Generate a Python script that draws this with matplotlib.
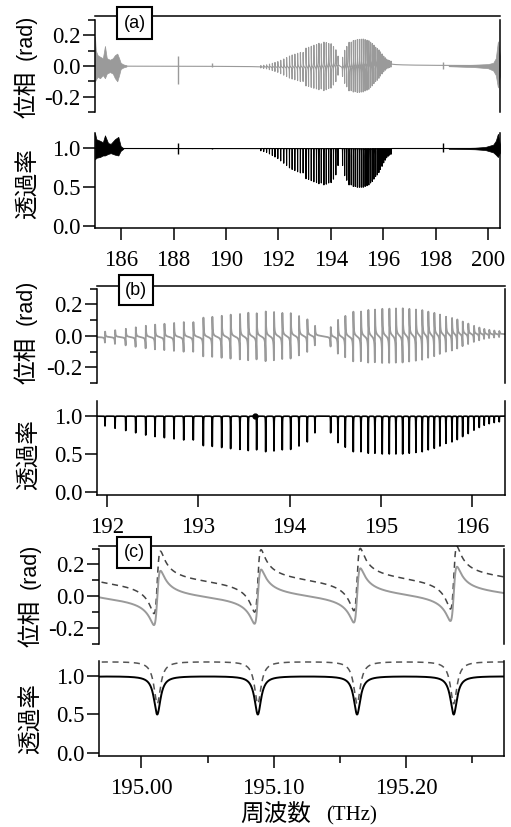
import numpy as np
import matplotlib.pyplot as plt
from matplotlib.patches import Rectangle

W, H = 511, 827
plt.rcParams['font.family'] = 'serif'
plt.rcParams['font.serif'] = ['Liberation Serif', 'DejaVu Serif']
CJK = ['Noto Sans CJK JP', 'DejaVu Sans']

# comb line centres (THz) and transmission minima
line_f = [191.978, 192.088, 192.205, 192.314, 192.424, 192.526, 192.628, 192.734,
          192.840, 192.945, 193.055, 193.153, 193.256, 193.354, 193.456, 193.547,
          193.639, 193.738, 193.829, 193.920, 194.012, 194.103, 194.194, 194.278,
          194.450, 194.530, 194.610, 194.698, 194.782, 194.862, 194.935, 195.015,
          195.092, 195.165, 195.239, 195.311, 195.384, 195.453, 195.519, 195.585,
          195.647, 195.713, 195.779, 195.837, 195.896, 195.957, 196.020, 196.078,
          196.132, 196.187, 196.242, 196.297]
line_t = [0.87, 0.84, 0.81, 0.78, 0.75, 0.73, 0.715, 0.70, 0.685, 0.685, 0.61, 0.60,
          0.585, 0.57, 0.56, 0.545, 0.555, 0.53, 0.54, 0.555, 0.56, 0.605, 0.66, 0.78,
          0.78, 0.65, 0.59, 0.53, 0.53, 0.51, 0.51, 0.50, 0.50, 0.50, 0.50, 0.51,
          0.52, 0.53, 0.555, 0.575, 0.605, 0.64, 0.66, 0.69, 0.73, 0.77, 0.815, 0.85,
          0.88, 0.90, 0.915, 0.925]
# weak lines only seen in (a)
extra_f = [191.33, 191.44, 191.55, 191.66, 191.77, 191.87]
extra_t = [0.97, 0.96, 0.95, 0.93, 0.91, 0.89]

# panel (c) lines (solid = measured, dashed = offset trace)
c_f = [194.938, 195.012, 195.088, 195.163, 195.236, 195.311]
c_t = [0.50, 0.50, 0.50, 0.50, 0.50, 0.51]
c_t_dash = [0.45, 0.45, 0.45, 0.45, 0.45, 0.46]
dash_phase_offset = 0.1
dash_trans_offset = 0.19

# panel (a) noisy edges (envelopes)
pa_left_f = [185.00, 185.03, 185.10, 185.19, 185.30, 185.38, 185.45, 185.57, 185.68, 185.76, 185.85, 185.92, 185.98, 186.08, 186.20]
pa_left_hi = [0.19, 0.10, 0.07, 0.06, 0.05, 0.13, 0.05, 0.04, 0.05, 0.07, 0.08, 0.05, 0.02, 0.01, 0.004]
pa_left_lo = [-0.10, -0.09, -0.07, -0.08, -0.06, -0.08, -0.05, -0.04, -0.05, -0.08, -0.10, -0.06, -0.02, -0.01, -0.004]
pa_right_f = [198.5, 199.0, 199.5, 200.0, 200.2, 200.3, 200.38, 200.46]
pa_right_hi = [0.002, 0.005, 0.008, 0.012, 0.02, 0.05, 0.16, 0.06]
pa_right_lo = [-0.002, -0.005, -0.008, -0.015, -0.03, -0.06, -0.14, -0.06]
ta_left_f = [185.00, 185.05, 185.19, 185.30, 185.38, 185.50, 185.60, 185.76, 185.89, 185.98, 186.08]
ta_left_hi = [1.20, 1.12, 1.10, 1.08, 1.17, 1.07, 1.06, 1.12, 1.15, 1.03, 1.005]
ta_left_lo = [0.86, 0.88, 0.89, 0.91, 0.91, 0.93, 0.94, 0.92, 0.91, 0.97, 0.995]
ta_right_f = [198.5, 199.0, 199.5, 199.9, 200.2, 200.3, 200.38, 200.46]
ta_right_hi = [1.002, 1.006, 1.01, 1.02, 1.05, 1.10, 1.19, 1.05]
ta_right_lo = [0.998, 0.994, 0.99, 0.98, 0.95, 0.92, 0.89, 0.95]
spike_f = [188.17, 189.47, 198.28]
spike_p_hi = [0.063, 0.02, 0.025]
spike_p_lo = [-0.12, -0.01, -0.02]
spike_t_hi = [1.065, 1.01, 1.065]
spike_t_lo = [0.935, 0.99, 0.96]

GRAY = '#9a9a9a'


def comb(f, centres, tmins, gam):
    t = np.ones_like(f, dtype=complex)
    for f0, tm in zip(centres, tmins):
        a = 1 - np.sqrt(tm)
        t *= 1 - a * gam / (gam + 1j * (f - f0))
    return np.abs(t) ** 2, np.angle(t)


def grid(lo, hi, n, centres, gam):
    base = np.linspace(lo, hi, n)
    offs = gam * np.array([-8, -4, -2, -1.5, -1, -0.85, -0.6, -0.4, -0.2, 0,
                           0.2, 0.4, 0.6, 0.85, 1, 1.5, 2, 4, 8])
    loc = (np.asarray(centres)[:, None] + offs[None, :]).ravel()
    return np.sort(np.concatenate([base, loc]))


fig = plt.figure(figsize=(W / 100, H / 100), dpi=100)


def add_ax(x0, x1, ytop, ybot):
    return fig.add_axes([x0 / W, 1 - ybot / H, (x1 - x0) / W, (ybot - ytop) / H])


def common(ax):
    for s in ax.spines.values():
        s.set_linewidth(1.1)
    ax.tick_params(which='major', direction='out', length=8.6, width=1.1, labelsize=16.5,
                   pad=2, labelfontfamily='Liberation Serif')
    ax.tick_params(which='minor', direction='out', length=4.8, width=1.1)
    ax.tick_params(axis='x', pad=7)


def style_phase(ax, xlim, ytop):
    ax.set_xlim(*xlim)
    ax.set_ylim(-0.3, ytop)
    ax.spines['bottom'].set_visible(False)
    ax.spines['left'].set_bounds(-0.3, 0.3)
    ax.spines['right'].set_bounds(-0.3, 0.3)
    ax.set_xticks([])
    ax.set_yticks([-0.2, 0.0, 0.2])
    ax.set_yticklabels(['-0.2', '0.0', '0.2'])
    ax.set_yticks([-0.3, -0.1, 0.1, 0.3], minor=True)
    common(ax)


def style_trans(ax, xlim, ybot):
    ax.set_xlim(*xlim)
    ax.set_ylim(ybot, 1.2)
    ax.spines['top'].set_visible(False)
    ax.set_yticks([0.0, 0.5, 1.0])
    ax.set_yticklabels(['0.0', '0.5', '1.0'])
    common(ax)


def panel_tag(x0, y0, x1, y1, s):
    fig.add_artist(Rectangle((x0 / W, 1 - y1 / H), (x1 - x0) / W, (y1 - y0) / H,
                             transform=fig.transFigure, facecolor='white',
                             edgecolor='black', lw=1.5, zorder=10))
    fig.text((x0 + x1) / 2 / W, 1 - (y0 + y1) / 2 / H, s, ha='center', va='center',
             fontsize=13, family='Liberation Sans', zorder=11)


def ylabels(x, yp, yr, xt, yt):
    fig.text(x / W, 1 - yp / H, '位相', rotation=90, ha='center', va='center',
             fontsize=17, family=CJK)
    fig.text((x - 1) / W, 1 - yr / H, '(rad)', rotation=90, ha='center', va='center',
             fontsize=15.5, family='Liberation Sans')
    fig.text(xt / W, 1 - yt / H, '透過率', rotation=90, ha='center', va='center',
             fontsize=17, family=CJK)


# ---------- panel (a)
xa = (185.0, 200.46)
fa_c = extra_f + line_f
ta_c = extra_t + line_t
fa = grid(xa[0], xa[1], 8000, fa_c, 0.0012)
Ta, Pa = comb(fa, fa_c, ta_c, 0.0012)

ax = add_ax(95, 500, 16, 112)
ax.plot(fa, Pa, color=GRAY, lw=0.8)
ax.fill_between(pa_left_f, pa_left_lo, pa_left_hi, color=GRAY, lw=0.5)
ax.fill_between(pa_right_f, pa_right_lo, pa_right_hi, color=GRAY, lw=0.5)
ax.vlines(spike_f, spike_p_lo, spike_p_hi, color=GRAY, lw=1.0)
style_phase(ax, xa, 0.325)

ax = add_ax(95, 500, 133, 228)
ax.plot(fa, Ta, color='black', lw=0.8)
ax.fill_between(ta_left_f, ta_left_lo, ta_left_hi, color='black', lw=0.5)
ax.fill_between(ta_right_f, ta_right_lo, ta_right_hi, color='black', lw=0.5)
ax.vlines(spike_f, spike_t_lo, spike_t_hi, color='black', lw=1.0)
style_trans(ax, xa, -0.026)
ax.set_xticks([186, 188, 190, 192, 194, 196, 198, 200])

# ---------- panel (b)
xb = (191.89, 196.36)
fb = grid(xb[0], xb[1], 6000, line_f, 0.0012)
Tb, Pb = comb(fb, line_f, line_t, 0.0012)

ax = add_ax(97, 505, 286, 383)
ax.plot(fb, Pb, color=GRAY, lw=1.3)
style_phase(ax, xb, 0.317)

ax = add_ax(97, 505, 401, 495)
ax.plot(fb, Tb, color='black', lw=1.2)
ax.plot([193.62], [1.0], 'o', color='black', ms=3.5)
style_trans(ax, xb, -0.043)
ax.set_xticks([192, 193, 194, 195, 196])

# ---------- panel (c)
xc = (194.968, 195.274)
fc = grid(xc[0], xc[1], 4000, c_f, 0.003)
Tc, Pc = comb(fc, c_f, c_t, 0.003)
Td, Pd = comb(fc, c_f, c_t_dash, 0.003)

ax = add_ax(99, 504, 546, 643.5)
ax.plot(fc, Pd + dash_phase_offset, color='#444444', lw=1.1, dashes=(4, 3))
ax.plot(fc, Pc, color=GRAY, lw=1.4)
style_phase(ax, xc, 0.316)

ax = add_ax(99, 504, 660.6, 756)
ax.plot(fc, Td + dash_trans_offset, color='#555555', lw=1.1, dashes=(4, 3))
ax.plot(fc, Tc, color='black', lw=1.4)
style_trans(ax, xc, -0.04)
ax.set_xticks([195.00, 195.10, 195.20])
ax.set_xticklabels(['195.00', '195.10', '195.20'])
ax.set_xticks([195.05, 195.15, 195.25], minor=True)

# tags and labels
panel_tag(117, 7, 152, 39, '(a)')
panel_tag(119, 275, 153, 305, '(b)')
panel_tag(117, 537, 151, 568, '(c)')

ylabels(27, 94, 37, 27, 184)
ylabels(27, 360, 302, 28, 455)
ylabels(31, 623, 566, 30, 719)

fig.text(276 / W, 1 - 815 / H, '周波数', ha='center', va='center', fontsize=17, family=CJK)
fig.text(352 / W, 1 - 816 / H, '(THz)', ha='center', va='center', fontsize=15)

fig.savefig('out.png', dpi=100)
